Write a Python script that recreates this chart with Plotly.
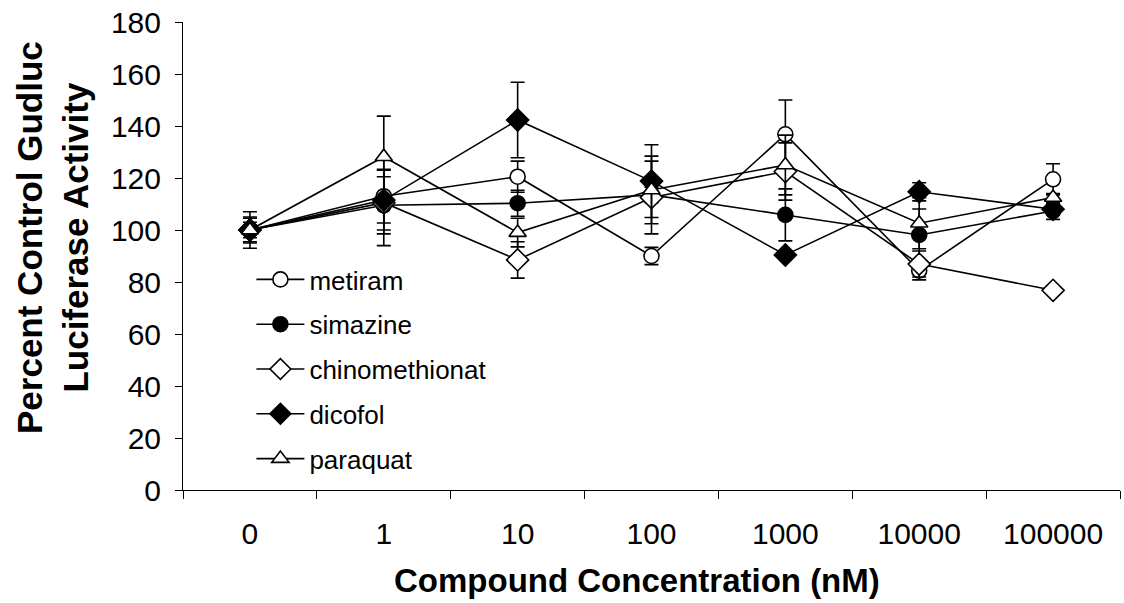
import plotly.graph_objects as go

categories = ["0", "1", "10", "100", "1000", "10000", "100000"]

metiram = [100, 113, 120.5, 90, 136.8, 84.4, 119.5]
metiram_err = [2, 10.3, 6, 3.3, 13.2, 3.6, 6]
simazine = [100, 109.5, 110.3, 113.5, 105.8, 98.1, 107.3]
simazine_err = [5, 11, 5, 3, 10, 10, 3.2]
chinomethionat = [100, 110.5, 88.5, 112.5, 122.5, 86.9, 76.8]
chinomethionat_err = [4.5, 16.5, 7, 14, 11, 5, 0]
dicofol = [100, 111.5, 142.3, 118.8, 90.4, 114.7, 108]
dicofol_err = [7, 11.5, 14.5, 14, 1.5, 3.5, 2.2]
paraquat = [100, 128.2, 99, 115.4, 125, 102.6, 112.5]
paraquat_err = [3, 15.6, 5.5, 13, 11.5, 9.8, 1.5]

series = [
    ("metiram", metiram, metiram_err, "circle", "white"),
    ("simazine", simazine, simazine_err, "circle", "black"),
    ("chinomethionat", chinomethionat, chinomethionat_err, "diamond", "white"),
    ("dicofol", dicofol, dicofol_err, "diamond", "black"),
    ("paraquat", paraquat, paraquat_err, "triangle-up", "white"),
]

FONT = "Liberation Sans, Arial, sans-serif"

fig = go.Figure()
for name, vals, errs, sym, fill in series:
    fig.add_trace(go.Scatter(
        x=categories, y=vals, name=name, legendgroup=name,
        mode="lines+markers",
        line=dict(color="black", width=1.6),
        marker=dict(symbol=sym, size=15 if sym != "diamond" else 17,
                    color=fill, line=dict(color="black", width=1.6)),
        error_y=dict(type="data", array=errs, symmetric=True,
                     color="black", thickness=1.6, width=7),
    ))

fig.update_layout(
    width=1124, height=603,
    margin=dict(l=183, r=4, t=22, b=113),
    paper_bgcolor="white", plot_bgcolor="white",
    font=dict(family=FONT, color="black"),
    showlegend=True,
    legend=dict(
        x=0.073, y=0.5, xanchor="left", yanchor="top",
        font=dict(size=26, family=FONT, color="black"),
        bgcolor="rgba(0,0,0,0)", traceorder="grouped", tracegroupgap=8,
        itemwidth=48,
    ),
    xaxis=dict(
        type="category", tickson="boundaries", ticks="outside", ticklen=8,
        tickwidth=1, tickcolor="black", showline=True, linecolor="black",
        linewidth=1, showgrid=False, zeroline=False,
        tickfont=dict(size=30, family=FONT), ticklabelstandoff=17,
        range=[-0.5, 6.5],
    ),
    yaxis=dict(
        range=[0, 180], dtick=20, ticks="outside", ticklen=7, tickwidth=1,
        tickcolor="black", showline=True, linecolor="black", linewidth=1,
        showgrid=False, zeroline=False,
        tickfont=dict(size=30, family=FONT), ticklabelstandoff=8,
    ),
    annotations=[
        dict(text="<b>Compound Concentration (nM)</b>", xref="paper", yref="paper",
             x=(637 - 183) / 937, y=-(580 - 490) / 468, xanchor="center", yanchor="middle",
             showarrow=False, font=dict(size=33, family=FONT)),
        dict(text="<b>Percent Control Gudluc<br>Luciferase Activity</b>", xref="paper",
             yref="paper", x=-(183 - 52) / 937, y=(490 - 238) / 468, xanchor="center",
             yanchor="middle", textangle=-90, showarrow=False,
             font=dict(size=35, family=FONT)),
    ],
)

fig.write_html("out.html")
